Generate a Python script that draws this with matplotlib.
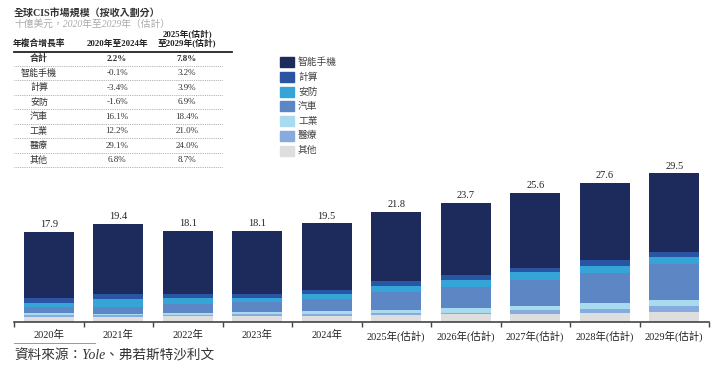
import numpy as np
import matplotlib
matplotlib.use("Agg")
import matplotlib.pyplot as plt
from matplotlib.patches import Rectangle
from matplotlib.lines import Line2D

plt.rcParams['font.family'] = ['Liberation Serif', 'Noto Sans CJK TC', 'DejaVu Sans']

# data (US$ bn)
years = ['2020年', '2021年', '2022年', '2023年', '2024年',
         '2025年(估計)', '2026年(估計)', '2027年(估計)', '2028年(估計)', '2029年(估計)']
totals = [17.9, 19.4, 18.1, 18.1, 19.5, 21.8, 23.7, 25.6, 27.6, 29.5]
segments = ['智能手機', '計算', '安防', '汽車', '工業', '醫療', '其他']
smartphone = [13.2, 13.9, 12.6, 12.6, 13.2, 13.7, 14.4, 14.9, 15.4, 15.6]
computing = [1.0, 1.0, 0.8, 0.7, 0.8, 0.9, 0.9, 0.9, 1.0, 1.0]
security = [0.8, 1.4, 1.05, 0.93, 0.93, 1.26, 1.4, 1.45, 1.5, 1.45]
auto = [1.2, 1.5, 1.85, 1.9, 2.4, 3.5, 4.2, 5.2, 6.0, 7.1]
industrial = [0.3, 0.27, 0.33, 0.33, 0.53, 0.66, 0.93, 0.86, 1.06, 1.1]
medical = [0.35, 0.3, 0.33, 0.4, 0.4, 0.4, 0.33, 0.73, 0.93, 1.2]
other = [1.05, 1.0, 1.1, 1.26, 1.26, 1.4, 1.5, 1.6, 1.7, 2.0]
colors = ['#1c2b5b', '#2a55a5', '#35a5d8', '#5d87c4', '#a9dbef', '#87aadf', '#dedede']

# CAGR table
table_rows = ['合計', '智能手機', '計算', '安防', '汽車', '工業', '醫療', '其他']
cagr_2020_2024 = ['2.2%', '-0.1%', '-3.4%', '-1.6%', '16.1%', '12.2%', '29.1%', '6.8%']
cagr_2025_2029 = ['7.8%', '3.2%', '3.9%', '6.9%', '18.4%', '21.0%', '24.0%', '8.7%']

W, H = 720, 368
fig = plt.figure(figsize=(W / 100, H / 100), dpi=100)

def fx(px):
    return px / W

def fy(py):
    return 1 - py / H

ax = fig.add_axes([fx(14), fy(322), fx(695), 162 / H])
x = np.arange(len(years))
stack = [other, medical, industrial, auto, security, computing, smartphone]
stack_colors = colors[::-1]
bottom = np.zeros(len(years))
for vals, c in zip(stack, stack_colors):
    ax.bar(x, vals, 0.72, bottom=bottom, color=c, linewidth=0)
    bottom += np.array(vals)

for xi, t, b in zip(x, totals, bottom):
    ax.annotate(f'{t:.1f}', (xi, b), xytext=(0, 2), textcoords='offset points',
                ha='center', va='bottom', fontsize=7.5, color='#222222')

ax.set_xlim(-0.5, len(years) - 0.5)
ax.set_ylim(0, 32.1)
for s in ['top', 'right', 'left']:
    ax.spines[s].set_visible(False)
ax.spines['bottom'].set_color('#444444')
ax.spines['bottom'].set_linewidth(1.2)
ax.set_yticks([])
ax.set_xticks(x)
ax.set_xticklabels(years, fontsize=7.5, color='#222222')
ax.tick_params(axis='x', which='major', length=0, pad=6)
ax.set_xticks(np.arange(-0.5, len(years)), minor=True)
ax.tick_params(axis='x', which='minor', length=3.5, width=1, color='#444444')

# title
fig.text(fx(14), fy(13), '全球CIS市場規模（按收入劃分）', fontsize=7.2, fontweight='bold',
         color='#333333', va='center', ha='left')
fig.text(fx(14), fy(24.5), '十億美元，2020年至2029年（估計）', fontsize=7, style='italic',
         color='#aaaaaa', va='center', ha='left')

# table
col_x = [39, 117, 187]
fig.text(fx(col_x[0]), fy(43.5), '年複合增長率', fontsize=6.3, fontweight='bold', ha='center', va='center', color='#222222')
fig.text(fx(col_x[1]), fy(43.5), '2020年至2024年', fontsize=6.3, fontweight='bold', ha='center', va='center', color='#222222')
fig.text(fx(col_x[2]), fy(34.5), '2025年(估計)', fontsize=6.3, fontweight='bold', ha='center', va='center', color='#222222')
fig.text(fx(col_x[2]), fy(44), '至2029年(估計)', fontsize=6.3, fontweight='bold', ha='center', va='center', color='#222222')
fig.add_artist(Line2D([fx(14), fx(232)], [fy(51.7), fy(51.7)], color='#222222', lw=1.3, transform=fig.transFigure))
for i, (name, a, b) in enumerate(zip(table_rows, cagr_2020_2024, cagr_2025_2029)):
    yc = 58.7 + i * 14.5
    wt = 'bold' if i == 0 else 'normal'
    for cx, txt in zip(col_x, [name, a, b]):
        fig.text(fx(cx), fy(yc), txt, fontsize=6.5, fontweight=wt, ha='center', va='center', color='#333333')
    yl = yc + 7.2
    fig.add_artist(Line2D([fx(14), fx(222)], [fy(yl), fy(yl)], color='#999999', lw=0.6,
                          linestyle=(0, (1, 1.2)), transform=fig.transFigure))

# legend
for i, (name, c) in enumerate(zip(segments, colors)):
    yc = 62.3 + i * 14.7
    fig.add_artist(Rectangle((fx(280), fy(yc + 5)), fx(14), 10 / H, color=c, transform=fig.transFigure))
    fig.text(fx(298), fy(yc), name, fontsize=7, ha='left', va='center', color='#444444')

# source
fig.add_artist(Line2D([fx(14), fx(95)], [fy(343), fy(343)], color='#888888', lw=0.6, transform=fig.transFigure))
fig.text(fx(14), fy(356), '資料來源：Yole、弗若斯特沙利文', fontsize=9.8, style='italic',
         color='#333333', ha='left', va='center')

fig.savefig('out.png', dpi=100)
